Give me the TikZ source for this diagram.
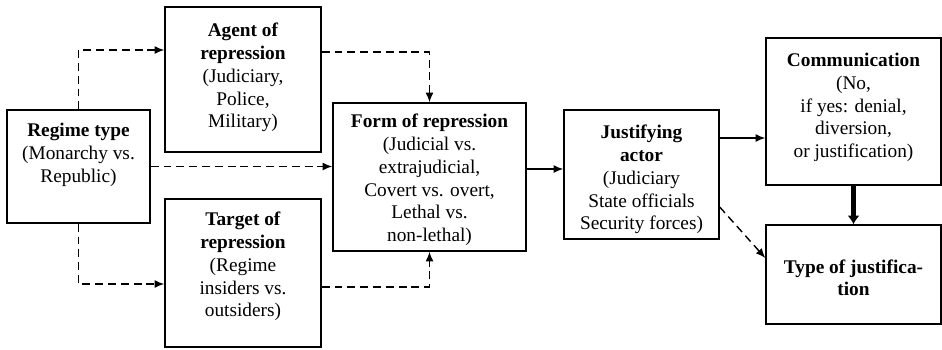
\documentclass[tikz,border=0pt]{standalone}
\usepackage{fontspec}
\setmainfont{Liberation Serif}
\usetikzlibrary{arrows.meta}
\newcommand{\boxlines}[3]{\parbox[c][#2][t]{#1}{\centering #3}}

\begin{document}
\begin{tikzpicture}[
      x=0.02cm,
      y=-0.02cm,
      every node/.style={
        font=\fontsize{11}{13}\selectfont
      },
      box/.style={
        rectangle,
        draw,
        line width=0.8pt,
        inner sep=0pt,
        align=center
      },
      dasharrow/.style={
        -{Latex[length=5.5pt,width=4.5pt]},
        line width=0.8pt,
        dash pattern=on 4.5pt off 2.8pt
      },
      solidarrow/.style={
        -{Latex[length=5.5pt,width=4.5pt]},
        line width=0.8pt
      },
      bigarrow/.style={
        -{Latex[length=5pt,width=7pt]},
        line width=2.3pt
      }
    ]
      \useasboundingbox (0,0) rectangle (942,349);

      \node[box, minimum width=2.86cm, minimum height=2.26cm] (regime) at (78.5,166.5)
        {\boxlines{2.8cm}{1.74cm}{\textbf{Regime type}\\(Monarchy vs.\\Republic)}};

      \node[box, minimum width=3.12cm, minimum height=2.9cm] (agent) at (243,79.5)
        {\boxlines{3.0cm}{2.26cm}{\textbf{Agent of}\\\textbf{repression}\\(Judiciary,\\Police,\\Military)}};

      \node[box, minimum width=3.12cm, minimum height=2.96cm] (target) at (243,273)
        {\boxlines{3.0cm}{2.44cm}{\textbf{Target of}\\\textbf{repression}\\(Regime\\insiders vs.\\outsiders)}};

      \node[box, minimum width=3.86cm, minimum height=2.96cm] (form) at (429.5,177)
        {\boxlines{3.8cm}{2.52cm}{\textbf{Form of repression}\\(Judicial vs.\\extrajudicial,\\Covert vs. overt,\\Lethal vs.\\non-lethal)}};

      \node[box, minimum width=3.1cm, minimum height=2.58cm] (justify) at (641.5,174.5)
        {\boxlines{3.0cm}{1.98cm}{\textbf{Justifying}\\\textbf{actor}\\(Judiciary\\State officials\\Security forces)}};

      \node[box, minimum width=3.5cm, minimum height=2.94cm] (comm) at (853.5,111.5)
        {\boxlines{3.4cm}{2.34cm}{\textbf{Communication}\\(No,\\if yes: denial,\\diversion,\\or justification)}};

      \node[box, minimum width=3.5cm, minimum height=1.98cm] (type) at (853.5,274.5)
        {\boxlines{3.4cm}{0.6cm}{\textbf{Type of justifica-}\\\textbf{tion}}};

      \draw[dasharrow] (regime.north) |- ([yshift=0.59cm]agent.west);
      \draw[dasharrow] (regime.south) |- ([yshift=-0.22cm]target.west);
      \draw[dasharrow] (regime.east) -- (regime.east -| form.west);

      \draw[dasharrow] ([yshift=0.55cm]agent.east) -| (form.north);
      \draw[dasharrow] ([yshift=-0.28cm]target.east) -| (form.south);

      \draw[solidarrow] ([yshift=0.16cm]form.east) -- ([yshift=0.16cm]form.east -| justify.west);
      \draw[solidarrow] ([yshift=0.73cm]justify.east) -- ([yshift=0.73cm]justify.east -| comm.west);
      \draw[dasharrow] ([yshift=-0.65cm]justify.east) -- ([yshift=0.33cm]type.west);

      \draw[bigarrow] (comm.south) -- (type.north);
    \end{tikzpicture}
\end{document}
